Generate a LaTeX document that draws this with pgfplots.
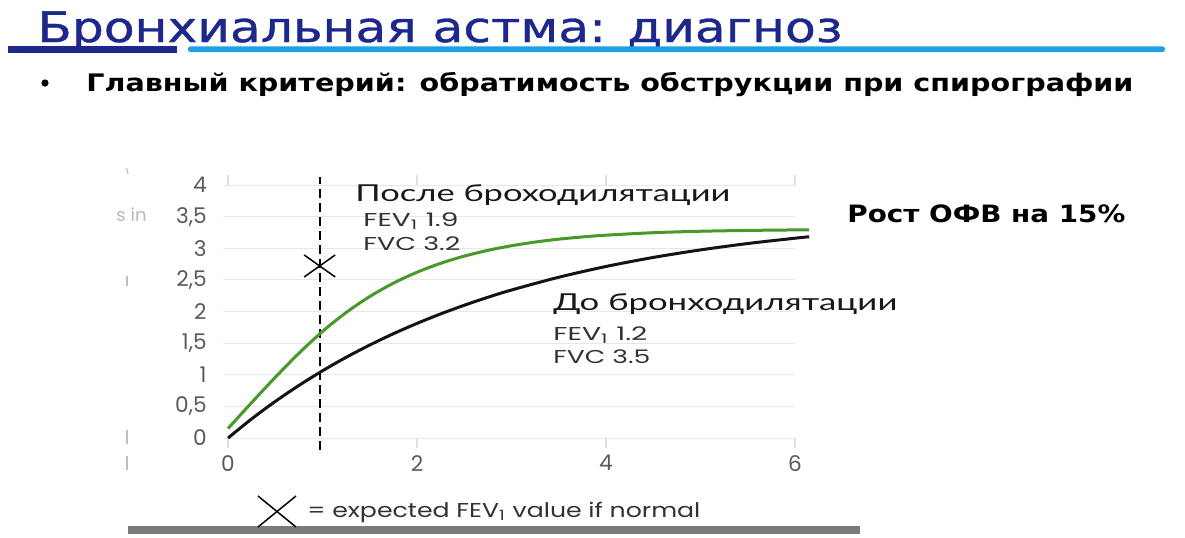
\documentclass[border=0pt]{standalone}
\usepackage{graphicx}
\usepackage{fontspec}
\setmainfont{DejaVu Sans}
\newfontfamily\titlefont{DejaVu Sans}[FakeBold=0.8]
\newfontfamily\pop{Poppins}
\newfontfamily\lat{Lato}
\usepackage{pgfplots}
\pgfplotsset{compat=1.18}
\definecolor{navy}{RGB}{30,40,140}
\definecolor{lblue}{RGB}{30,160,228}
\definecolor{fgreen}{RGB}{72,152,42}
\definecolor{tickgray}{RGB}{90,90,90}
\definecolor{labgray}{RGB}{50,50,50}
\newcommand\fit[4]{\resizebox{#1}{#2}{#3\smash{#4}\vphantom{H}}}
\begin{document}
\begin{tikzpicture}
\useasboundingbox (0,0) rectangle (592.5pt,-268.5pt);
\fill[white] (0,0) rectangle (592.5pt,-268.5pt);
% title and bars
\node[anchor=base west, inner sep=0, text=navy] at (18.5pt,-21pt) {\fit{402.5pt}{15.3pt}{\titlefont}{Бронхиальная астма: диагноз}};
\fill[navy] (4pt,-23pt) rectangle (88.5pt,-26.5pt);
\fill[lblue, rounded corners=1.2pt] (94pt,-23.2pt) rectangle (582.5pt,-26pt);
% bullet
\fill[black] (22.5pt,-41.5pt) circle (1.8pt);
\node[anchor=base west, inner sep=0, text=black] at (43pt,-45.85pt) {\fit{523.5pt}{8.8pt}{\bfseries}{Главный критерий: обратимость обструкции при спирографии}};
% right annotation
\node[anchor=base west, inner sep=0, text=black] at (423.5pt,-111pt) {\fit{139pt}{8.7pt}{\bfseries}{Рост ОФВ на 15\%}};
% faint fragments on the left
\node[anchor=east, inner sep=0, text=black!28] at (73.5pt,-107.5pt) {\pop\fontsize{9pt}{10pt}\selectfont s in};
\draw[black!25, line width=0.6pt] (63.3pt,-84pt) -- (64pt,-87pt);
\draw[black!25, line width=0.6pt] (63.5pt,-138pt) -- (63.5pt,-143pt);
\draw[black!25, line width=0.6pt] (63.5pt,-215pt) -- (63.5pt,-222pt);
\draw[black!25, line width=0.6pt] (63.5pt,-228pt) -- (63.5pt,-235pt);
% chart
\begin{axis}[
  at={(111.65pt,-219pt)}, anchor=south west,
  width=285.85pt, height=126.5pt, scale only axis,
  xmin=-0.05, xmax=6, ymin=0, ymax=4,
  clip=false,
  axis line style={draw=none},
  ymajorgrids=true,
  grid style={draw=black!9, line width=0.5pt},
  xtick={0,2,4,6}, xticklabels={0,2,4,6},
  ytick={0,0.5,1,1.5,2,2.5,3,3.5,4},
  yticklabels={0,{0,5},1,{1,5},2,{2,5},3,{3,5},4},
  tick align=outside, major tick length=5pt,
  xtick style={draw=black!12, line width=0.6pt},
  ytick style={draw=none},
  ticklabel style={font=\pop\fontsize{10.8pt}{12pt}\selectfont, text=tickgray, inner sep=0pt},
  yticklabel style={anchor=east, xshift=-3.15pt},
  xticklabel style={anchor=north, yshift=-3.5pt},
]
% dashed vertical line at x = 1
\addplot[black, line width=1.1pt, dash pattern=on 4.5pt off 2.5pt] coordinates {(0.97,-0.19) (0.97,4.13)};
% before bronchodilation
\addplot[black!92, line width=1.5pt, smooth] coordinates {
(0,0) (0.25,0.302) (0.5,0.578) (0.75,0.831) (1,1.063) (1.25,1.276) (1.5,1.470)
(1.75,1.649) (2,1.812) (2.25,1.962) (2.5,2.099) (2.75,2.225) (3,2.340) (3.5,2.542)
(4,2.712) (4.5,2.855) (5,2.974) (5.5,3.075) (6,3.159) (6.15,3.182)};
% after bronchodilation
\addplot[fgreen, line width=1.5pt, smooth] coordinates {
(0,0.15) (0.25,0.56) (0.5,0.96) (0.75,1.34) (1,1.685) (1.25,1.984) (1.5,2.237)
(1.75,2.448) (2,2.621) (2.25,2.762) (2.5,2.876) (2.75,2.967) (3,3.040) (3.25,3.098)
(3.5,3.144) (3.75,3.179) (4,3.207) (4.5,3.246) (5,3.269) (5.5,3.282) (6,3.290) (6.15,3.292)};
% expected normal FEV1
\addplot[only marks, mark=x, mark size=7.8pt, mark options={xscale=1.41, line width=0.75pt, draw=black}] coordinates {(0.97,2.72)};
\end{axis}
% curve annotations
\node[anchor=base west, inner sep=0, text=black!90] at (177.5pt,-100.85pt) {\fit{187.5pt}{8.35pt}{\lat}{После броходилятации}};
\node[anchor=base west, inner sep=0, text=labgray] at (181.5pt,-113pt) {\fit{47.5pt}{6.5pt}{\pop}{FEV\textsubscript{1} 1.9}};
\node[anchor=base west, inner sep=0, text=labgray] at (181.5pt,-125pt) {\fit{48.5pt}{6.5pt}{\pop}{FVC 3.2}};
\node[anchor=base west, inner sep=0, text=black!90] at (276.5pt,-155pt) {\fit{172pt}{8.35pt}{\lat}{До бронходилятации}};
\node[anchor=base west, inner sep=0, text=labgray] at (276.5pt,-170pt) {\fit{47pt}{6.5pt}{\pop}{FEV\textsubscript{1} 1.2}};
\node[anchor=base west, inner sep=0, text=labgray] at (276.5pt,-181.5pt) {\fit{48.5pt}{6.5pt}{\pop}{FVC 3.5}};
% bottom legend
\fill[black!52] (64pt,-263pt) rectangle (430pt,-267pt);
\draw[black, line width=0.75pt] (129pt,-248pt) -- (148pt,-263.5pt);
\draw[black, line width=0.75pt] (129pt,-263.5pt) -- (148pt,-248pt);
\node[anchor=base west, inner sep=0, text=labgray] at (153.5pt,-258.5pt) {\fit{196.5pt}{7pt}{\pop}{= expected FEV\textsubscript{1} value if normal}};
\end{tikzpicture}
\end{document}
